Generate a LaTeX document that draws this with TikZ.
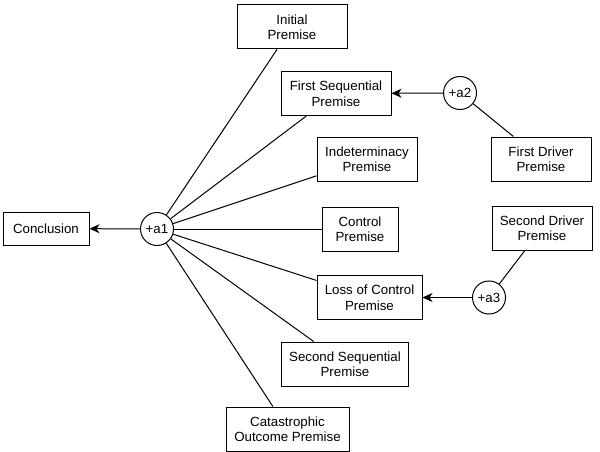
\documentclass[tikz,border=0pt]{standalone}
\usepackage{fontspec}
\setmainfont{Liberation Sans}
\usetikzlibrary{arrows.meta}
\definecolor{arink}{HTML}{000000}
\tikzset{
  ar text/.style={font=\fontsize{13.3}{15.5}\selectfont, text=arink},
  ar box/.style={draw=arink, line width=1pt, fill=white, align=center,
    minimum height=44pt, inner sep=2pt, font=\fontsize{13.3}{15.5}\selectfont},
  ar hub/.style={draw=arink, line width=1pt, circle, fill=white,
    minimum size=33pt, inner sep=0pt, font=\fontsize{13.3}{15.5}\selectfont},
  ar link/.style={draw=arink, line width=1pt},
  ar arrow/.style={-{Stealth[length=10pt,width=9pt,inset=3pt]}, line width=1pt,
    draw=arink}
}
\begin{document}
\begin{tikzpicture}[ar text, x=1pt, y=-1pt]
  \useasboundingbox (0,0) rectangle (600,452);
  % hubs
  \node[ar hub] (a1) at (157,229) {+a1};
  \node[ar hub] (a2) at (460,93) {+a2};
  \node[ar hub] (a3) at (489,297.5) {+a3};
  % boxes
  \node[ar box, minimum width=86pt, minimum height=33pt] (concl) at (46,228.5) {Conclusion};
  \node[ar box, minimum width=110pt] (init) at (292,27) {Initial\\Premise};
  \node[ar box, minimum width=110pt] (seq1) at (336,93.5) {First Sequential\\Premise};
  \node[ar box, minimum width=100pt] (indet) at (367,159) {Indeterminacy\\Premise};
  \node[ar box, minimum width=76pt] (ctrl) at (360,229) {Control\\Premise};
  \node[ar box, minimum width=105pt] (loss) at (369.5,297.5) {Loss of Control\\Premise};
  \node[ar box, minimum width=127pt] (seq2) at (345,364) {Second Sequential\\Premise};
  \node[ar box, minimum width=123pt] (cata) at (287.5,429) {Catastrophic\\Outcome Premise};
  \node[ar box, minimum width=100pt] (drv1) at (541,159) {First Driver\\Premise};
  \node[ar box, minimum width=100pt] (drv2) at (542,228) {Second Driver\\Premise};
  % links into +a1
  \foreach \p in {init,seq1,indet,ctrl,loss,seq2,cata}
    \draw[ar link] (a1) -- (\p);
  \draw[ar arrow] (a1) -- (concl);
  % drivers
  \draw[ar link] (drv1) -- (a2);
  \draw[ar arrow] (a2) -- (seq1);
  \draw[ar link] (drv2) -- (a3);
  \draw[ar arrow] (a3) -- (loss);
\end{tikzpicture}
\end{document}
